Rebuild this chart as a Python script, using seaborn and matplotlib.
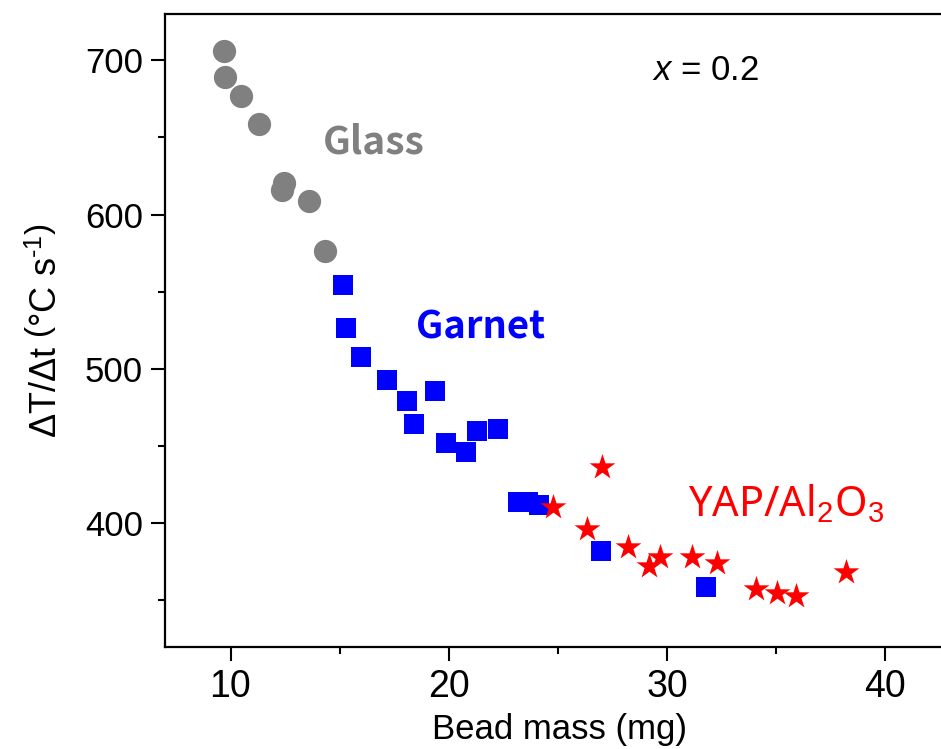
import matplotlib
matplotlib.use("Agg")
import matplotlib.pyplot as plt
import seaborn as sns
import pandas as pd

# ---- data ----
glass_mass = [9.69, 9.76, 10.49, 11.30, 12.43, 12.37, 13.59, 14.35]
glass_rate = [706.0, 689.4, 676.9, 658.5, 620.3, 615.9, 608.8, 576.6]

garnet_mass = [15.13, 15.31, 15.99, 17.16, 18.09, 19.36, 18.40, 19.89, 20.78,
               21.27, 22.24, 23.16, 23.62, 24.15, 26.98, 31.80]
garnet_rate = [554.6, 526.3, 507.5, 492.6, 479.2, 485.5, 464.3, 452.2, 446.3,
               459.7, 461.0, 413.9, 414.0, 411.8, 382.0, 358.8]

yap_mass = [27.03, 24.76, 26.32, 28.20, 29.19, 29.68, 31.15, 32.26, 34.05,
            35.03, 35.91, 38.20]
yap_rate = [436.6, 410.3, 396.0, 384.4, 372.5, 378.3, 378.3, 374.0, 357.5,
            355.0, 353.0, 368.2]

x_ticks = [10, 20, 30, 40]
y_ticks = [400, 500, 600, 700]

df = pd.concat([
    pd.DataFrame({"mass": glass_mass, "rate": glass_rate, "group": "Glass"}),
    pd.DataFrame({"mass": garnet_mass, "rate": garnet_rate, "group": "Garnet"}),
    pd.DataFrame({"mass": yap_mass, "rate": yap_rate, "group": "YAP"}),
], ignore_index=True)

sns.set_style("ticks")
plt.rcParams["font.family"] = ["Liberation Sans", "DejaVu Sans"]
plt.rcParams["mathtext.fontset"] = "custom"
plt.rcParams["mathtext.rm"] = "Liberation Sans"
plt.rcParams["mathtext.it"] = "Liberation Sans:italic"
plt.rcParams["mathtext.bf"] = "Liberation Sans:bold"
for k in ["text.color", "axes.labelcolor", "xtick.color", "ytick.color",
          "axes.edgecolor"]:
    plt.rcParams[k] = "black"

fig = plt.figure(figsize=(9.41, 7.49), dpi=100)
ax = fig.add_axes([165 / 941, 1 - 646.7 / 749, 786 / 941, 632.7 / 749])

styles = {
    "Glass": dict(color="#808080", marker="o", s=280),
    "Garnet": dict(color="#0000FF", marker="s", s=205),
    "YAP": dict(color="#FF0000", marker="*", s=380),
}
for g, st in styles.items():
    sub = df[df["group"] == g]
    sns.scatterplot(data=sub, x="mass", y="rate", ax=ax, color=st["color"],
                    marker=st["marker"], s=st["s"], linewidth=0, zorder=3,
                    legend=False)

ax.set_xlim(7, 43)
ax.set_ylim(320, 730)
ax.set_xticks(x_ticks)
ax.set_yticks(y_ticks)
ax.set_xticks([15, 25, 35], minor=True)
ax.set_yticks([350, 450, 550, 650], minor=True)

for side in ["left", "right", "top", "bottom"]:
    ax.spines[side].set_visible(True)
    ax.spines[side].set_linewidth(1.6)
    ax.spines[side].set_color("black")

ax.tick_params(which="major", direction="out", length=10, width=1.5,
               colors="black", pad=6)
ax.tick_params(which="minor", direction="out", length=5, width=1.5,
               colors="black")
ax.tick_params(axis="y", labelsize=25)
ax.tick_params(axis="x", labelsize=27)

ax.set_xlabel("Bead mass (mg)", fontsize=25, color="black")
ax.xaxis.set_label_coords((559 - 165) / 786, -(713 - 646.7) / 632.7)
ax.set_ylabel("\u0394T/\u0394t $\\left(\\mathrm{\u00b0C\\ s^{\u20101}}\\right)$",
              fontsize=26, va="center", color="black")
ax.yaxis.set_label_coords((47 - 165) / 786, 0.5)


def px(xp, yp):
    return (xp - 165) / 786, 1 - (yp - 14) / 632.7


bold_fam = ["Noto Sans CJK SC", "DejaVu Sans"]
ax.text(*px(374, 142), "Glass", transform=ax.transAxes, ha="center",
        va="center", fontsize=28, fontweight="bold", color="#808080",
        fontfamily=bold_fam)
ax.text(*px(481, 327), "Garnet", transform=ax.transAxes, ha="center",
        va="center", fontsize=27.5, fontweight="bold", color="#0000FF",
        fontfamily=bold_fam)
ax.text(*px(786, 505), r"YAP/Al$_2$O$_3$", transform=ax.transAxes,
        ha="center", va="center", fontsize=30, color="#FF0000",
        fontfamily=["Noto Sans", "DejaVu Sans"])
ax.text(*px(705, 70), r"$x$ = 0.2", transform=ax.transAxes, ha="center",
        va="center", fontsize=25, color="black")

fig.savefig("out.png", dpi=100)
